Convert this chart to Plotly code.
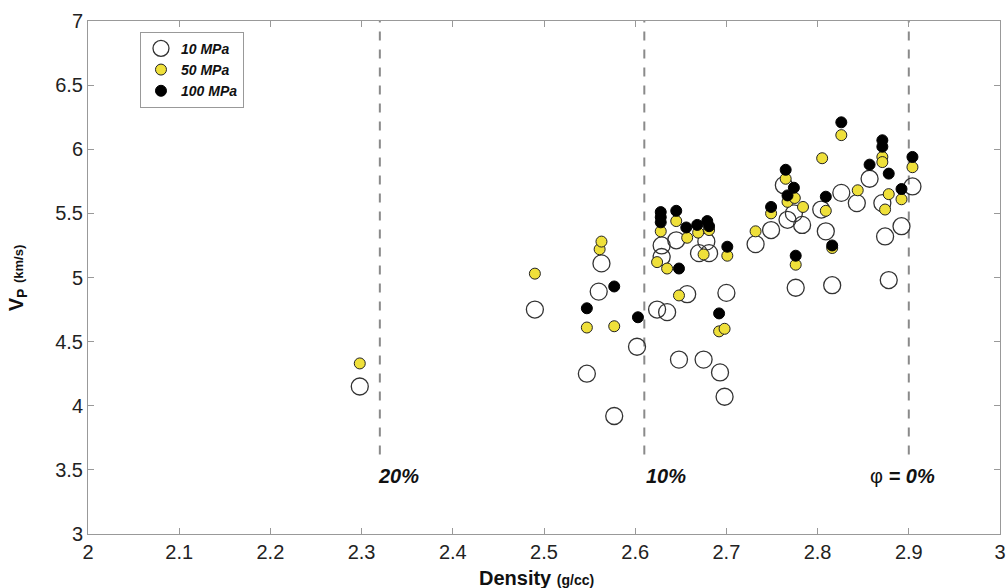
import plotly.graph_objects as go

# ---- data ----
x_10 = [2.298, 2.490, 2.547, 2.560, 2.563, 2.577, 2.602, 2.624, 2.635, 2.629, 2.629, 2.645,
        2.648, 2.657, 2.670, 2.681, 2.678, 2.675, 2.693, 2.698, 2.700, 2.732, 2.749, 2.763,
        2.767, 2.774, 2.783, 2.776, 2.804, 2.809, 2.816, 2.826, 2.843, 2.857, 2.871, 2.874,
        2.878, 2.892, 2.904]
y_10 = [4.15, 4.75, 4.25, 4.89, 5.11, 3.92, 4.46, 4.75, 4.73, 5.16, 5.25, 5.29,
        4.36, 4.87, 5.19, 5.19, 5.28, 4.36, 4.26, 4.07, 4.88, 5.26, 5.37, 5.72,
        5.45, 5.50, 5.41, 4.92, 5.53, 5.36, 4.94, 5.66, 5.58, 5.77, 5.58, 5.32,
        4.98, 5.40, 5.71]

x_50 = [2.298, 2.490, 2.547, 2.561, 2.563, 2.577, 2.624, 2.628, 2.635, 2.645, 2.648, 2.657,
        2.669, 2.675, 2.681, 2.692, 2.698, 2.701, 2.732, 2.749, 2.765, 2.767, 2.775, 2.776,
        2.784, 2.805, 2.809, 2.816, 2.826, 2.844, 2.871, 2.871, 2.874, 2.878, 2.892, 2.904]
y_50 = [4.33, 5.03, 4.61, 5.22, 5.28, 4.62, 5.12, 5.36, 5.07, 5.44, 4.86, 5.31,
        5.35, 5.18, 5.37, 4.58, 4.60, 5.17, 5.36, 5.50, 5.77, 5.59, 5.62, 5.10,
        5.55, 5.93, 5.52, 5.23, 6.11, 5.68, 5.94, 5.90, 5.53, 5.65, 5.61, 5.86]

x_100 = [2.547, 2.577, 2.603, 2.628, 2.628, 2.628, 2.645, 2.648, 2.656, 2.668, 2.679, 2.681,
         2.692, 2.701, 2.749, 2.765, 2.767, 2.774, 2.776, 2.809, 2.816, 2.826, 2.857, 2.871,
         2.871, 2.878, 2.892, 2.904]
y_100 = [4.76, 4.93, 4.69, 5.51, 5.47, 5.43, 5.52, 5.07, 5.39, 5.41, 5.44, 5.40,
         4.72, 5.24, 5.55, 5.84, 5.64, 5.70, 5.17, 5.63, 5.25, 6.21, 5.88, 6.07,
         6.02, 5.81, 5.69, 5.94]

series_names = ["10 MPa", "50 MPa", "100 MPa"]

porosity_lines = [2.32, 2.61, 2.90]
porosity_labels = ["<b><i>20%</i></b>", "<b><i>10%</i></b>", "\u03c6 <b><i>= 0%</i></b>"]
label_x = [2.340, 2.634, 2.893]
label_y = 3.45

x_ticks = [2.0, 2.1, 2.2, 2.3, 2.4, 2.5, 2.6, 2.7, 2.8, 2.9, 3.0]
x_ticktext = ["2", "2.1", "2.2", "2.3", "2.4", "2.5", "2.6", "2.7", "2.8", "2.9", "3"]
y_ticks = [3, 3.5, 4, 4.5, 5, 5.5, 6, 6.5, 7]
y_ticktext = ["3", "3.5", "4", "4.5", "5", "5.5", "6", "6.5", "7"]

FONT = "Liberation Sans, Arial, Helvetica, sans-serif"

fig = go.Figure()
fig.add_trace(go.Scatter(
    x=x_10, y=y_10, mode="markers", name="<b><i>" + series_names[0] + "</i></b>",
    marker=dict(size=17, color="rgba(255,255,255,0)", line=dict(color="#333333", width=1.3)),
))
fig.add_trace(go.Scatter(
    x=x_50, y=y_50, mode="markers", name="<b><i>" + series_names[1] + "</i></b>",
    marker=dict(size=11, color="#EFE03A", line=dict(color="#222222", width=1)),
))
fig.add_trace(go.Scatter(
    x=x_100, y=y_100, mode="markers", name="<b><i>" + series_names[2] + "</i></b>",
    marker=dict(size=11, color="#000000", line=dict(color="#000000", width=1)),
))

for xv in porosity_lines:
    fig.add_shape(type="line", x0=xv, x1=xv, y0=3.62, y1=7, xref="x", yref="y",
                  line=dict(color="#8a8a8a", width=2, dash="dash"), layer="below")

for lx, lt in zip(label_x, porosity_labels):
    fig.add_annotation(x=lx, y=label_y, text=lt, showarrow=False,
                       font=dict(family=FONT, size=20, color="#111111"),
                       xanchor="center", yanchor="middle")

# axis titles
fig.add_annotation(xref="paper", yref="paper", x=0.492, y=-0.086,
                   text="<b>Density <span style='font-size:14px'>(g/cc)</span></b>",
                   showarrow=False, xanchor="center", yanchor="middle",
                   font=dict(family=FONT, size=20, color="#111111"))
fig.add_annotation(xref="paper", yref="paper", x=-0.077, y=0.50,
                   text="<b>V<sub>P</sub> <span style='font-size:13px'>(km/s)</span></b>",
                   showarrow=False, xanchor="center", yanchor="middle", textangle=-90,
                   font=dict(family=FONT, size=20, color="#111111"))

axis_common = dict(showgrid=False, zeroline=False, showline=True, linecolor="#999999",
                   linewidth=1, mirror="ticks", ticks="inside", ticklen=6, tickcolor="#999999",
                   tickfont=dict(family=FONT, size=20, color="#222222"),
                   ticklabeloverflow="allow")

fig.update_xaxes(range=[2, 3], tickvals=x_ticks, ticktext=x_ticktext, **axis_common)
fig.update_yaxes(range=[3, 7], tickvals=y_ticks, ticktext=y_ticktext, **axis_common)

fig.update_layout(
    width=1008, height=588,
    margin=dict(l=88, r=2, t=21, b=54),
    plot_bgcolor="white", paper_bgcolor="white",
    font=dict(family=FONT),
    showlegend=True,
    legend=dict(x=0.057, y=0.979, xanchor="left", yanchor="top",
                bgcolor="white", bordercolor="#999999", borderwidth=1,
                font=dict(family=FONT, size=14, color="#111111"),
                itemsizing="trace", tracegroupgap=0),
)

fig.write_html("out.html")
